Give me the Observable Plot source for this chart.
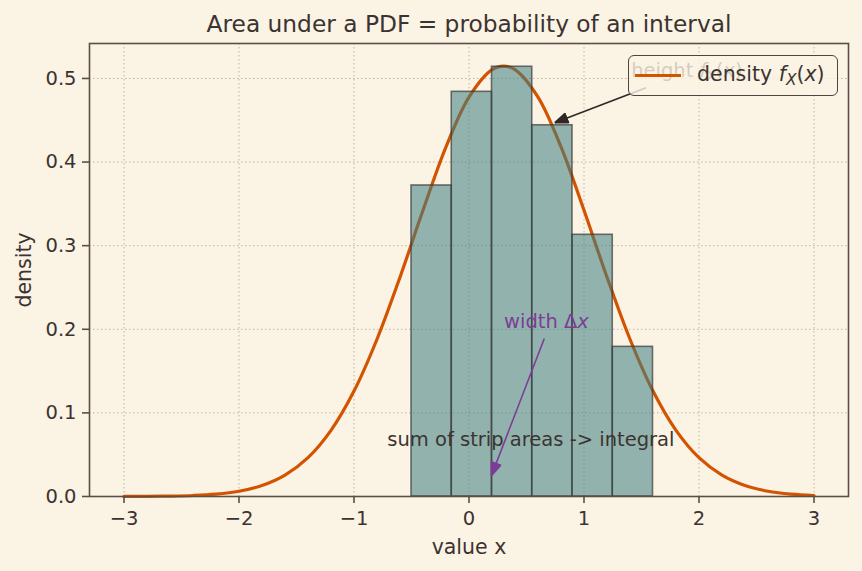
<!DOCTYPE html>
<html>
<head>
<meta charset="utf-8">
<script src="https://cdn.jsdelivr.net/npm/d3@7"></script>
<script src="https://cdn.jsdelivr.net/npm/@observablehq/plot@0.6"></script>
<style>
  html, body { margin: 0; padding: 0; background: #fbf3e4; }
  #wrap { position: relative; width: 862px; height: 571px; font-family: "DejaVu Sans", sans-serif; color: #3b3331; }
  #legend { position: absolute; left: 628px; top: 55px; width: 210px; height: 41px; box-sizing: border-box;
            border: 1.6px solid #4d4340; border-radius: 6px; background: rgba(251,243,228,0.8); }
  #legend .sw { position: absolute; left: 6px; top: 17.5px; width: 46px; height: 3px; background: #d35400; }
  #legend .lt { position: absolute; left: 68px; top: 5px; font-size: 20.5px; line-height: 26px; white-space: nowrap; }
  #legend sub { font-size: 75%; vertical-align: -0.25em; line-height: 0; }
</style>
</head>
<body>
<div id="wrap">
  <div id="chart"></div>
  <div id="legend"><span class="sw"></span><span class="lt">density <i>f</i><sub><i>X</i></sub>(<i>x</i>)</span></div>
</div>
<script>
// ---- data ----
const curveX = [-3.0, -2.8, -2.6, -2.4, -2.2, -2.0, -1.8, -1.6, -1.4, -1.2, -1.0, -0.8, -0.6, -0.4, -0.2, 0.0, 0.2, 0.3, 0.4, 0.6, 0.8, 1.0, 1.2, 1.4, 1.6, 1.8, 2.0, 2.2, 2.4, 2.6, 2.8, 3.0];
const curveY = [0.0001, 0.0002, 0.0005, 0.0012, 0.0028, 0.0063, 0.0131, 0.0255, 0.0464, 0.0791, 0.1261, 0.1881, 0.2623, 0.3423, 0.4181, 0.4776, 0.5105, 0.5148, 0.5105, 0.4776, 0.4181, 0.3423, 0.2623, 0.1881, 0.1261, 0.0791, 0.0464, 0.0255, 0.0131, 0.0063, 0.0028, 0.0012];
const binEdges = [-0.5, -0.15, 0.2, 0.55, 0.9, 1.25, 1.6];
const binHeights = [0.372, 0.484, 0.514, 0.444, 0.313, 0.179];
const xTicks = [-3, -2, -1, 0, 1, 2, 3];
const yTicks = [0, 0.1, 0.2, 0.3, 0.4, 0.5];

const curve = curveX.map((x, i) => ({x, y: curveY[i]}));
const bins = binHeights.map((h, i) => ({x1: binEdges[i], x2: binEdges[i + 1], y: h}));

const ink = "#3b3331";
const fmtX = d => d < 0 ? "\u2212" + Math.abs(d) : String(d);

function filledArrow(color, context) {
  const ns = "http://www.w3.org/2000/svg";
  const m = context.document.createElementNS(ns, "marker");
  m.setAttribute("viewBox", "-14 -6 14 12");
  m.setAttribute("markerUnits", "userSpaceOnUse");
  m.setAttribute("markerWidth", 14);
  m.setAttribute("markerHeight", 12);
  m.setAttribute("refX", 0);
  m.setAttribute("refY", 0);
  m.setAttribute("orient", "auto");
  const p = context.document.createElementNS(ns, "path");
  p.setAttribute("d", "M-13,-5L0,0L-13,5Z");
  p.setAttribute("fill", color);
  m.appendChild(p);
  return m;
}

const chart = Plot.plot({
  width: 862,
  height: 571,
  marginLeft: 89,
  marginRight: 14,
  marginTop: 43,
  marginBottom: 75,
  style: {background: "transparent", fontFamily: "DejaVu Sans, sans-serif", color: ink, overflow: "visible"},
  x: {domain: [-3.3, 3.3]},
  y: {domain: [0, 0.5418]},
  marks: [
    Plot.gridX(xTicks, {stroke: "#bdb4a6", strokeOpacity: 1, strokeWidth: 1, strokeDasharray: "1.5,2.5"}),
    Plot.gridY(yTicks, {stroke: "#bdb4a6", strokeOpacity: 1, strokeWidth: 1, strokeDasharray: "1.5,2.5"}),
    Plot.line(curve, {x: "x", y: "y", stroke: "#d35400", strokeWidth: 3.2, curve: "catmull-rom"}),
    Plot.rectY(bins, {x1: "x1", x2: "x2", y: "y", fill: "#3c7e80", fillOpacity: 0.55, stroke: "#3a3a3a", strokeOpacity: 0.7, strokeWidth: 1.6, inset: 0}),
    // annotations
    Plot.text([{x: 1.41, y: 0.5096}], {x: "x", y: "y", text: () => "height f_X(x)", textAnchor: "start", fontSize: 19.5, fill: ink, className: "ann-height"}),
    Plot.link([{x1: 1.54, y1: 0.489, x2: 0.745, y2: 0.447}], {x1: "x1", y1: "y1", x2: "x2", y2: "y2", stroke: "#2f2826", strokeWidth: 1.6, markerEnd: filledArrow}),
    Plot.text([{x: 0.305, y: 0.2085}], {x: "x", y: "y", text: () => "width \u0394x", textAnchor: "start", fontSize: 19.5, fill: "#7d3c98", className: "ann-width"}),
    Plot.link([{x1: 0.655, y1: 0.189, x2: 0.195, y2: 0.025}], {x1: "x1", y1: "y1", x2: "x2", y2: "y2", stroke: "#7d3c98", strokeWidth: 1.6, markerEnd: filledArrow}),
    Plot.text([{x: 0.538, y: 0.0675}], {x: "x", y: "y", text: () => "sum of strip areas -> integral", textAnchor: "middle", fontSize: 19.5, fill: ink}),
    Plot.frame({stroke: "#5c4e44", strokeWidth: 1.6}),
    Plot.axisX(xTicks, {tickFormat: fmtX, tickSize: 7, tickPadding: 8, fontSize: 19.5, label: null, stroke: "#5c4e44", strokeWidth: 1.6}),
    Plot.axisY(yTicks, {tickFormat: d3.format(".1f"), tickSize: 7, tickPadding: 6, fontSize: 19.5, label: null, stroke: "#5c4e44", strokeWidth: 1.6}),
    Plot.text(["value x"], {text: d => d, frameAnchor: "bottom", lineAnchor: "middle", textAnchor: "middle", dy: 51, fontSize: 20.5, fill: ink}),
    Plot.text(["density"], {text: d => d, frameAnchor: "left", lineAnchor: "middle", textAnchor: "middle", dx: -65, rotate: -90, fontSize: 20.5, fill: ink}),
    Plot.text(["Area under a PDF = probability of an interval"], {text: d => d, frameAnchor: "top", lineAnchor: "middle", textAnchor: "middle", dy: -19, fontSize: 23.3, fill: ink})
  ]
});
document.getElementById("chart").appendChild(chart);

// math-style rich text for annotations
const NS = "http://www.w3.org/2000/svg";
function rich(el, parts) {
  el.textContent = "";
  for (const [t, style] of parts) {
    const ts = document.createElementNS(NS, "tspan");
    ts.textContent = t;
    if (style && style.italic) ts.setAttribute("font-style", "italic");
    if (style && style.sub) { ts.setAttribute("font-size", "70%"); ts.setAttribute("baseline-shift", "-25%"); }
    el.appendChild(ts);
  }
}
chart.querySelectorAll(".ann-height text").forEach(el => rich(el, [["height ", null], ["f", {italic: true}], ["X", {italic: true, sub: true}], ["(", null], ["x", {italic: true}], [")", null]]));
chart.querySelectorAll(".ann-width text").forEach(el => rich(el, [["width \u0394", null], ["x", {italic: true}]]));
</script>
</body>
</html>
